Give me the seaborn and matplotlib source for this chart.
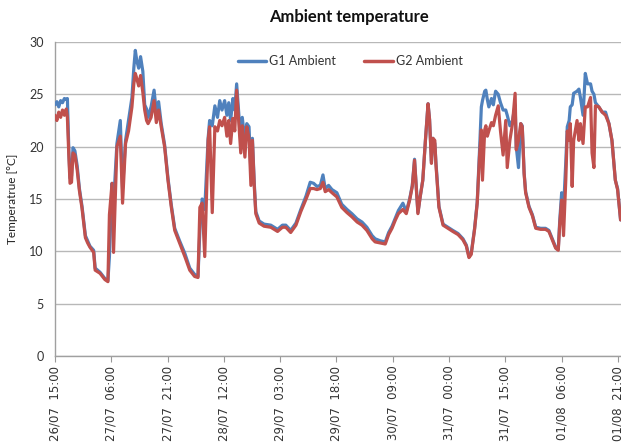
import numpy as np
import pandas as pd
import matplotlib
matplotlib.use("Agg")
import matplotlib.pyplot as plt
import seaborn as sns

# hours since 26/07 15:00
hours = [0.0, 0.5, 1.0, 1.5, 2.0, 2.5, 3.0, 3.3, 3.7, 4.0, 4.4, 4.8, 5.3, 5.9, 6.5, 7.2, 8.1, 8.7, 9.3,
         10.3, 10.7, 12.0, 13.3, 14.1, 14.5, 15.2, 15.6, 16.5, 17.4, 18.0, 18.8, 19.6, 20.5, 21.0, 21.4,
         21.8, 22.3, 22.8, 23.4, 23.9, 24.4, 24.8, 25.6, 26.4, 27.0, 27.6, 28.3, 29.2, 30.1, 31.0, 31.9,
         33.2, 34.6, 35.9, 37.2, 38.1, 38.6, 39.2, 39.9, 40.8, 41.2, 41.9, 42.6, 43.3, 43.9, 44.5, 45.2,
         45.8, 46.3, 46.8, 47.4, 47.9, 48.4, 49.0, 49.5, 49.9, 50.6, 51.1, 51.7, 52.2, 52.6, 53.1, 53.5,
         54.4, 55.7, 57.5, 59.3, 60.6, 61.5, 62.8, 64.2, 65.5, 66.9, 68.0, 68.9, 69.8, 70.7, 71.4, 72.0,
         72.9, 73.8, 75.1, 76.4, 77.8, 79.1, 80.5, 81.8, 83.1, 84.5, 85.3, 86.7, 88.0, 88.9, 89.8, 90.7,
         91.5, 92.7, 93.6, 94.5, 95.2, 95.8, 96.3, 96.7, 97.3, 98.0, 98.7, 99.4, 99.8, 100.3, 100.7, 101.2,
         101.5, 101.8, 102.3, 103.4, 104.7, 106.0, 107.4, 108.7, 109.6, 110.3, 110.9, 111.8, 112.5, 113.1,
         113.6, 113.9, 114.5, 114.8, 115.2, 115.6, 116.3, 116.8, 117.4, 118.1, 118.7, 119.4, 120.1, 120.5,
         121.2, 121.9, 122.6, 122.9, 123.5, 124.1, 124.5, 125.0, 125.4, 126.3, 127.2, 128.1, 129.4, 130.7,
         131.6, 132.5, 133.4, 134.1, 134.5, 135.0, 135.5, 136.1, 136.5, 137.0, 137.3, 137.8, 138.2, 139.1,
         139.6, 140.0, 140.7, 141.3, 141.9, 142.7, 143.1, 143.6, 144.0, 144.9, 145.8, 146.7, 147.6, 148.4,
         149.3, 149.9, 150.7]

g1_ambient = [24.0, 24.3, 23.8, 24.4, 24.2, 24.6, 24.5, 24.6, 19.5, 17.0, 17.2, 19.9, 19.6, 18.2, 16.0, 14.3,
              11.5, 11.0, 10.5, 10.1, 8.4, 8.0, 7.4, 7.2, 9.5, 16.5, 14.5, 20.3, 22.5, 16.0, 20.6, 22.5, 24.7,
              27.5, 29.2, 28.2, 27.5, 28.6, 27.2, 24.0, 23.6, 22.8, 23.8, 25.4, 23.3, 24.3, 22.2, 20.2, 17.0,
              14.4, 12.2, 11.0, 9.8, 8.4, 7.8, 7.6, 12.0, 15.0, 14.0, 20.8, 22.5, 22.0, 23.9, 22.8, 24.4, 23.5,
              24.4, 23.0, 24.2, 22.5, 24.6, 23.5, 26.0, 23.0, 20.5, 22.8, 20.5, 22.2, 21.9, 17.5, 20.8, 16.5,
              13.8, 12.9, 12.6, 12.5, 12.1, 12.5, 12.5, 12.0, 12.7, 14.0, 15.3, 16.6, 16.5, 16.2, 16.3, 17.3,
              16.0, 16.3, 15.9, 15.6, 14.5, 14.0, 13.6, 13.1, 12.8, 12.3, 11.5, 11.2, 11.0, 10.9, 11.8, 12.4,
              13.2, 13.9, 14.6, 13.8, 15.0, 16.3, 18.8, 16.0, 13.7, 15.2, 16.8, 20.6, 24.1, 22.6, 18.6, 20.8,
              20.3, 18.5, 17.0, 14.3, 12.6, 12.3, 12.0, 11.7, 11.2, 10.6, 9.5, 9.8, 12.2, 14.7, 19.5, 23.8,
              24.4, 25.3, 25.4, 24.5, 23.8, 24.6, 24.0, 25.3, 25.0, 24.2, 23.5, 23.5, 23.0, 22.0, 22.5, 24.0,
              20.0, 18.0, 22.2, 22.0, 17.5, 15.7, 14.3, 13.5, 12.3, 12.2, 12.2, 12.0, 11.2, 10.4, 10.2, 13.0,
              15.6, 14.0, 18.5, 21.9, 22.5, 23.8, 24.0, 25.1, 25.3, 25.5, 24.7, 23.0, 27.0, 26.0, 26.0, 25.3,
              25.0, 24.2, 23.8, 23.3, 23.3, 22.2, 20.6, 16.8, 16.0, 13.0]

g2_ambient = [23.0, 22.5, 23.3, 22.8, 23.5, 23.0, 23.6, 22.8, 19.0, 16.5, 16.6, 19.4, 19.2, 17.8, 15.8, 14.1,
              11.3, 10.8, 10.4, 9.9, 8.2, 7.9, 7.3, 7.1, 13.5, 16.5, 9.9, 20.0, 21.0, 14.6, 20.3, 21.5, 23.8,
              26.0, 27.0, 26.5, 25.8, 26.8, 25.2, 23.5, 22.5, 22.2, 22.8, 24.4, 22.3, 23.5, 21.9, 20.0, 16.8,
              14.2, 12.0, 10.8, 9.5, 8.2, 7.6, 7.5, 14.2, 14.6, 9.5, 20.6, 21.9, 13.7, 21.9, 21.5, 22.5, 22.0,
              22.8, 21.0, 22.5, 20.3, 22.7, 21.5, 25.4, 22.2, 19.4, 22.0, 19.0, 21.9, 20.8, 16.3, 20.6, 16.2,
              13.6, 12.7, 12.4, 12.3, 11.9, 12.3, 12.3, 11.8, 12.5, 13.8, 15.0, 16.0, 16.0, 15.9, 16.0, 16.6,
              15.7, 15.9, 15.6, 15.2, 14.2, 13.7, 13.3, 12.8, 12.5, 12.0, 11.2, 10.9, 10.8, 10.7, 11.6, 12.2,
              13.0, 13.6, 14.0, 13.6, 14.9, 16.2, 18.7, 15.9, 13.6, 15.2, 16.8, 20.6, 24.1, 22.6, 18.4, 20.8,
              20.6, 18.3, 16.8, 14.2, 12.5, 12.2, 11.9, 11.6, 11.1, 10.5, 9.4, 9.7, 12.1, 14.6, 19.0, 21.6,
              16.8, 21.6, 22.0, 21.0, 21.5, 22.3, 22.0, 23.0, 23.9, 21.5, 19.2, 22.5, 18.0, 20.6, 22.2, 25.1,
              19.7, 20.6, 22.2, 21.9, 17.4, 15.6, 14.2, 13.4, 12.2, 12.1, 12.1, 11.9, 11.1, 10.3, 10.1, 12.7,
              14.9, 11.5, 16.8, 21.5, 20.6, 22.2, 16.2, 20.6, 22.5, 20.6, 22.2, 20.3, 23.8, 23.8, 24.7, 19.4,
              18.0, 23.9, 23.8, 23.3, 23.0, 22.2, 20.6, 16.8, 15.9, 13.0]

series_names = ["G1 Ambient", "G2 Ambient"]
series_colors = ["#4F81BD", "#C0504D"]
tick_hours = [0, 15, 30, 45, 60, 75, 90, 105, 120, 135, 150]
tick_labels = ["26/07  15:00", "27/07  06:00", "27/07  21:00", "28/07  12:00", "29/07  03:00",
               "29/07  18:00", "30/07  09:00", "31/07  00:00", "31/07  15:00", "01/08  06:00",
               "01/08  21:00"]
y_ticks = [0, 5, 10, 15, 20, 25, 30]

df = pd.concat([
    pd.DataFrame({"hour": hours, "temp": g1_ambient, "series": series_names[0]}),
    pd.DataFrame({"hour": hours, "temp": g2_ambient, "series": series_names[1]}),
], ignore_index=True)

sns.set_style("white")
plt.rcParams["font.family"] = ["Lato", "DejaVu Sans"]

fig = plt.figure(figsize=(6.21, 4.45), dpi=100)
ax = fig.add_axes([55 / 621, 1 - 356 / 445, 1 - 55 / 621, (356 - 42) / 445])

sns.lineplot(data=df, x="hour", y="temp", hue="series", hue_order=series_names,
             palette=dict(zip(series_names, series_colors)), linewidth=2.3, ax=ax,
             estimator=None, sort=False, zorder=3)

ax.set_xlim(0, (621 - 55) / 3.753)
ax.set_ylim(0, 30)
ax.set_yticks(y_ticks)
ax.set_yticklabels([str(v) for v in y_ticks], fontsize=9, color="#333333")
ax.set_xticks(tick_hours)
ax.set_xticklabels(tick_labels, rotation=90, fontsize=8.5, color="#333333",
                   fontfamily="DejaVu Sans")
ax.tick_params(axis="x", direction="out", length=4, width=0.8, color="#999999", pad=3, bottom=True)
ax.tick_params(axis="y", length=0, pad=8)

ax.grid(axis="y", color="#b8b8b8", linewidth=1.0)
ax.grid(axis="x", visible=False)
for s in ["top", "right"]:
    ax.spines[s].set_visible(False)
for s in ["left", "bottom"]:
    ax.spines[s].set_color("#a0a0a0")
    ax.spines[s].set_linewidth(1.0)

ax.set_xlabel("")
ax.set_ylabel("Temperatrue [°C]", fontsize=8.5, color="#222222", labelpad=8)

leg = ax.legend(loc="center", bbox_to_anchor=((350 - 55) / 566, (356 - 61) / 314), ncol=2,
                frameon=False, fontsize=9, handlelength=2.3, handletextpad=0.2,
                columnspacing=2.3)
for line in leg.get_lines():
    line.set_linewidth(2.5)
for t in leg.get_texts():
    t.set_color("#333333")

fig.text(349 / 621, 1 - 17 / 445, "Ambient temperature", ha="center", va="center",
         fontsize=12, fontweight="bold", color="#111111")

fig.savefig("out.png", dpi=100)
